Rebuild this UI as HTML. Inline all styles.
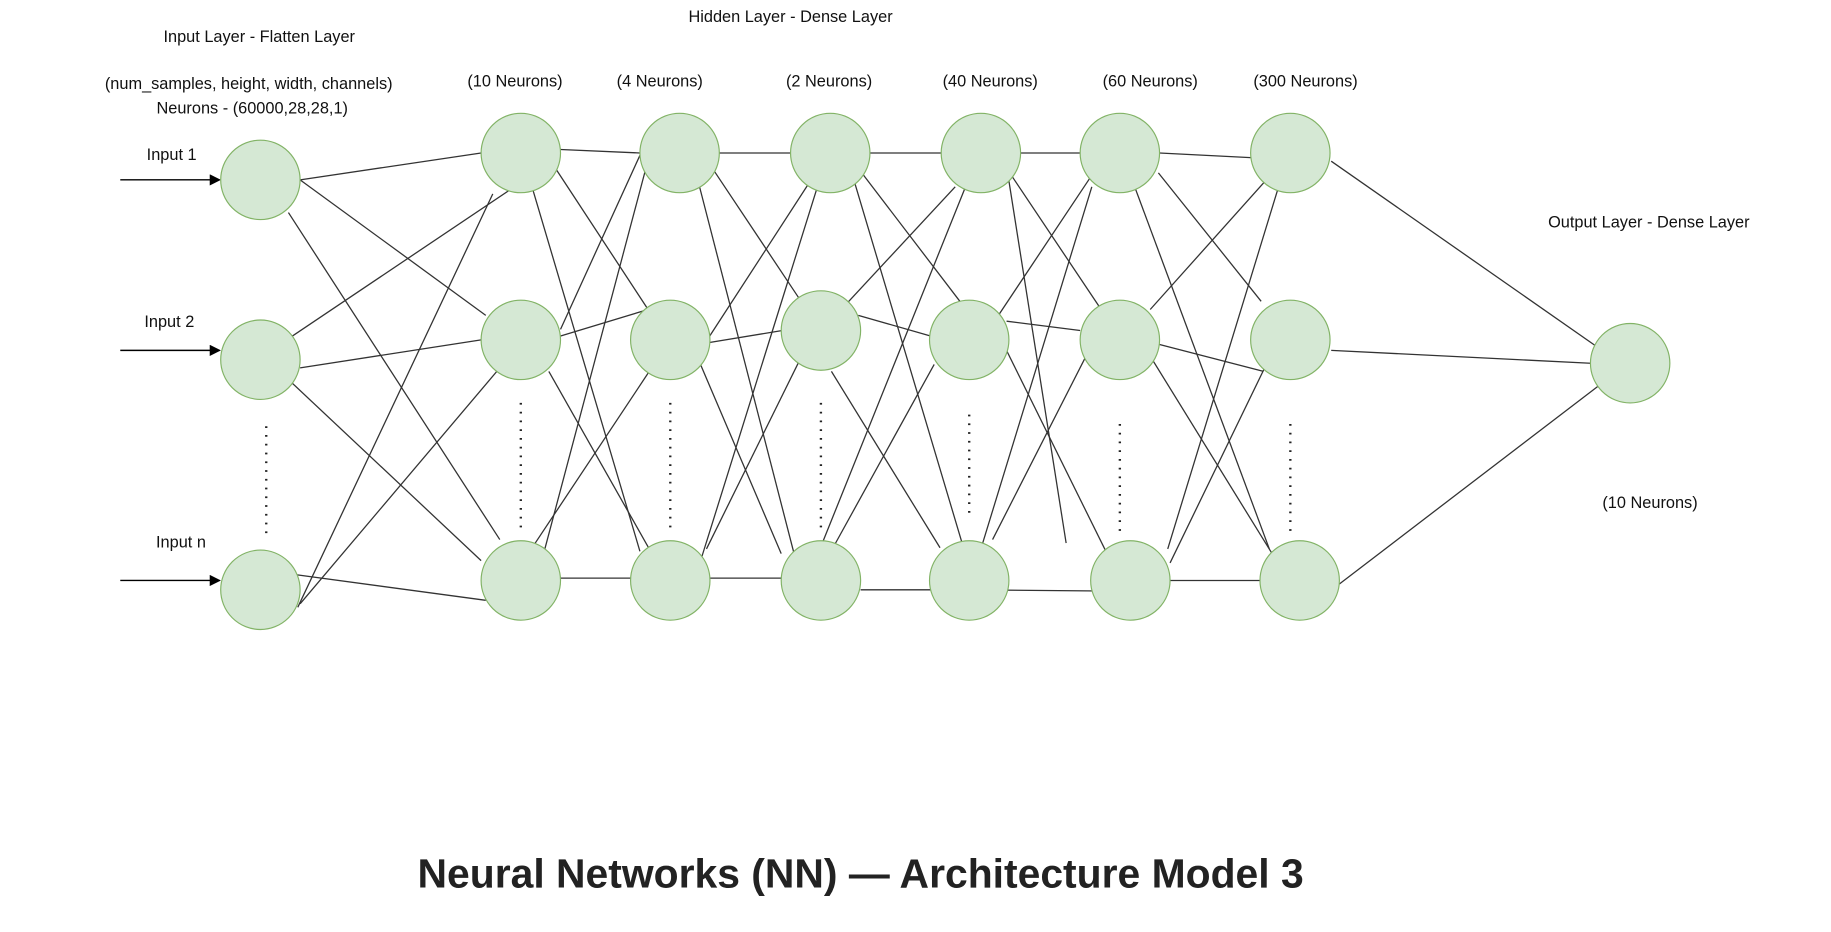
<!DOCTYPE html>
<html><head><meta charset="utf-8"><style>
html,body{margin:0;padding:0;background:#fff;}
svg{display:block}
text{font-family:"Liberation Sans",sans-serif;fill:#111;}
</style></head><body>
<svg width="1831" height="932" viewBox="0 0 1568 798" preserveAspectRatio="none" xmlns="http://www.w3.org/2000/svg">
<defs><marker id="ar" markerWidth="8" markerHeight="8" refX="7" refY="4" orient="auto"><path d="M0,0 L8,4 L0,8 z" fill="#000"/></marker></defs>
<g stroke="#333" stroke-width="1.1" fill="none">
<!-- input -> L1 -->
<line x1="257" y1="154" x2="412" y2="131"/>
<line x1="257" y1="154" x2="416" y2="270"/>
<line x1="247" y1="182" x2="428" y2="462"/>
<line x1="247" y1="290" x2="436" y2="163"/>
<line x1="257" y1="315" x2="412" y2="291"/>
<line x1="247" y1="325" x2="412" y2="480"/>
<line x1="253" y1="492" x2="416" y2="514"/>
<line x1="255" y1="520" x2="422" y2="166"/>
<line x1="257" y1="517" x2="428" y2="315"/>
<!-- L1 -> L2 -->
<line x1="480" y1="128" x2="548" y2="131"/>
<line x1="471" y1="137" x2="555" y2="265"/>
<line x1="455" y1="158" x2="548" y2="472"/>
<line x1="479" y1="288" x2="555" y2="265"/>
<line x1="480" y1="282" x2="548" y2="133"/>
<line x1="470" y1="318" x2="556" y2="470"/>
<line x1="480" y1="495" x2="540" y2="495"/>
<line x1="465" y1="476" x2="555" y2="137"/>
<line x1="457" y1="467" x2="556" y2="318"/>
<!-- L2 -> L3 -->
<line x1="616" y1="131" x2="677" y2="131"/>
<line x1="612" y1="147" x2="684" y2="255"/>
<line x1="596" y1="148" x2="680" y2="474"/>
<line x1="603" y1="294" x2="670" y2="283"/>
<line x1="605" y1="292" x2="692" y2="158"/>
<line x1="599" y1="310" x2="669" y2="474"/>
<line x1="608" y1="495" x2="670" y2="495"/>
<line x1="600" y1="480" x2="700" y2="160"/>
<line x1="605" y1="470" x2="684" y2="310"/>
<!-- L3 -> L4 -->
<line x1="745" y1="131" x2="806" y2="131"/>
<line x1="738" y1="148" x2="822" y2="258"/>
<line x1="730" y1="150" x2="826" y2="472"/>
<line x1="725" y1="260" x2="818" y2="160"/>
<line x1="735" y1="270" x2="798" y2="288"/>
<line x1="712" y1="318" x2="805" y2="469"/>
<line x1="737" y1="505" x2="797" y2="505"/>
<line x1="705" y1="463" x2="826" y2="162"/>
<line x1="715" y1="466" x2="800" y2="312"/>
<!-- L4 -> L5 -->
<line x1="874" y1="131" x2="925" y2="131"/>
<line x1="866" y1="150" x2="941" y2="262"/>
<line x1="864" y1="155" x2="913" y2="465"/>
<line x1="862" y1="275" x2="925" y2="283"/>
<line x1="858" y1="292" x2="948" y2="474"/>
<line x1="855" y1="270" x2="935" y2="150"/>
<line x1="830" y1="505" x2="943" y2="506"/>
<line x1="840" y1="470" x2="935" y2="160"/>
<line x1="850" y1="462" x2="930" y2="305"/>
<!-- L5 -> L6 -->
<line x1="993" y1="131" x2="1071" y2="135"/>
<line x1="992" y1="148" x2="1080" y2="258"/>
<line x1="968" y1="150" x2="1087" y2="470"/>
<line x1="985" y1="265" x2="1088" y2="150"/>
<line x1="993" y1="295" x2="1082" y2="318"/>
<line x1="977" y1="292" x2="1090" y2="475"/>
<line x1="1002" y1="497" x2="1079" y2="497"/>
<line x1="1000" y1="470" x2="1094" y2="163"/>
<line x1="1002" y1="482" x2="1083" y2="315"/>
<!-- L6 -> out -->
<line x1="1140" y1="138" x2="1372" y2="300"/>
<line x1="1140" y1="300" x2="1362" y2="311"/>
<line x1="1147" y1="500" x2="1372" y2="328"/>
</g>
<g stroke="#000" stroke-width="1.2">
<line x1="103" y1="154" x2="188" y2="154" marker-end="url(#ar)"/>
<line x1="103" y1="300" x2="188" y2="300" marker-end="url(#ar)"/>
<line x1="103" y1="497" x2="188" y2="497" marker-end="url(#ar)"/>
</g>
<g stroke="#222" stroke-width="2" stroke-dasharray="1.5,6">
<line x1="228" y1="365" x2="228" y2="462"/>
<line x1="446" y1="345" x2="446" y2="455"/>
<line x1="574" y1="345" x2="574" y2="455"/>
<line x1="703" y1="345" x2="703" y2="455"/>
<line x1="830" y1="355" x2="830" y2="445"/>
<line x1="959" y1="363" x2="959" y2="455"/>
<line x1="1105" y1="363" x2="1105" y2="455"/>
</g>
<g fill="#d5e8d4" stroke="#82b366" stroke-width="1">
<circle cx="223" cy="154" r="34"/><circle cx="223" cy="308" r="34"/><circle cx="223" cy="505" r="34"/>
<circle cx="446" cy="131" r="34"/><circle cx="446" cy="291" r="34"/><circle cx="446" cy="497" r="34"/>
<circle cx="582" cy="131" r="34"/><circle cx="574" cy="291" r="34"/><circle cx="574" cy="497" r="34"/>
<circle cx="711" cy="131" r="34"/><circle cx="703" cy="283" r="34"/><circle cx="703" cy="497" r="34"/>
<circle cx="840" cy="131" r="34"/><circle cx="830" cy="291" r="34"/><circle cx="830" cy="497" r="34"/>
<circle cx="959" cy="131" r="34"/><circle cx="959" cy="291" r="34"/><circle cx="968" cy="497" r="34"/>
<circle cx="1105" cy="131" r="34"/><circle cx="1105" cy="291" r="34"/><circle cx="1113" cy="497" r="34"/>
<circle cx="1396" cy="311" r="34"/>
</g>
<g font-size="14" text-anchor="middle">
<text x="222" y="36">Input Layer  - Flatten Layer</text>
<text x="213" y="76">(num_samples, height, width, channels)</text>
<text x="216" y="97">Neurons - (60000,28,28,1)</text>
<text x="677" y="19">Hidden Layer - Dense Layer</text>
<text x="441" y="74">(10 Neurons)</text>
<text x="565" y="74">(4 Neurons)</text>
<text x="710" y="74">(2 Neurons)</text>
<text x="848" y="74">(40 Neurons)</text>
<text x="985" y="74">(60 Neurons)</text>
<text x="1118" y="74">(300 Neurons)</text>
<text x="1412" y="195">Output Layer  - Dense Layer</text>
<text x="1413" y="435">(10 Neurons)</text>
<text x="147" y="137">Input 1</text>
<text x="145" y="280">Input 2</text>
<text x="155" y="469">Input n</text>
</g>
<text x="737" y="760" font-size="35" font-weight="bold" text-anchor="middle" style="fill:#222">Neural Networks (NN) — Architecture Model 3</text>
</svg>
</body></html>
